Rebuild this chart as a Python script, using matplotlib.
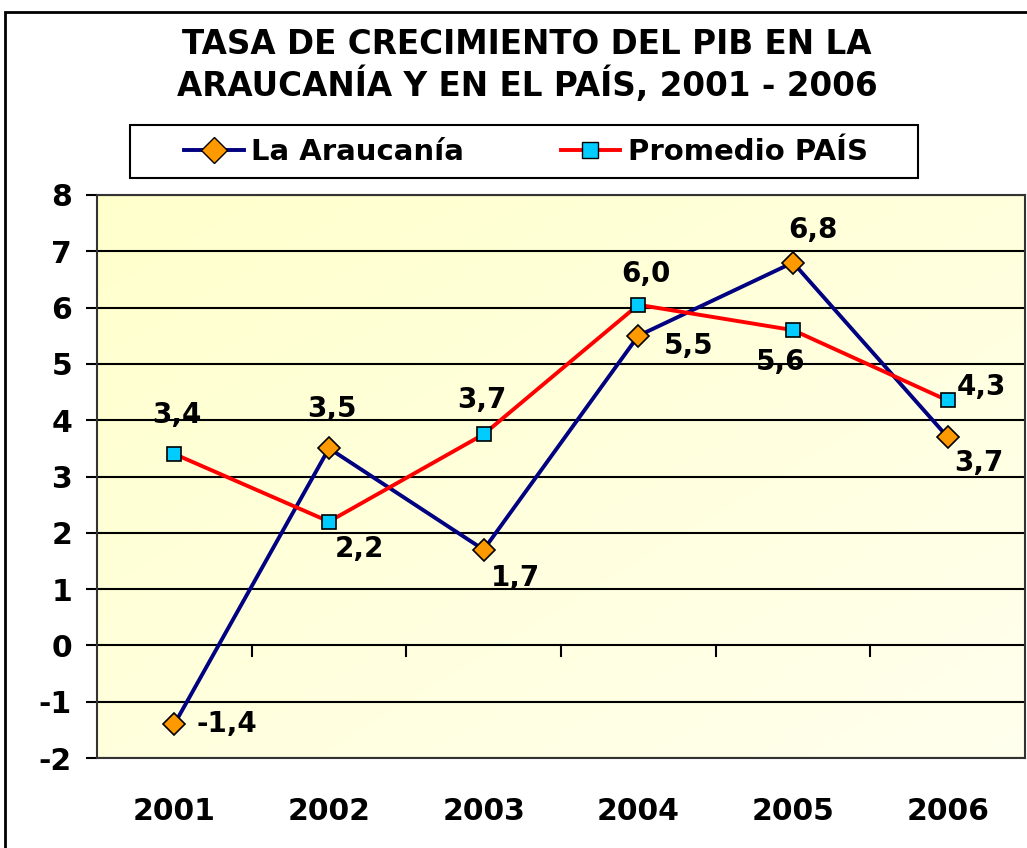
import matplotlib
matplotlib.use("Agg")
import matplotlib.pyplot as plt
import numpy as np
from matplotlib.patches import Rectangle
from matplotlib.lines import Line2D

years = ["2001", "2002", "2003", "2004", "2005", "2006"]
araucania = [-1.4, 3.5, 1.7, 5.5, 6.8, 3.7]
pais = [3.4, 2.2, 3.75, 6.05, 5.6, 4.35]
araucania_labels = ["-1,4", "3,5", "1,7", "5,5", "6,8", "3,7"]
pais_labels = ["3,4", "2,2", "3,7", "6,0", "5,6", "4,3"]
yticks = [-2, -1, 0, 1, 2, 3, 4, 5, 6, 7, 8]

W, H = 1027, 848
fig = plt.figure(figsize=(W / 100, H / 100), dpi=100)
fig.patch.set_facecolor("white")

# outer chart border
fig.patches.append(Rectangle((5 / W, -0.05), 1.1, (H - 12) / H + 0.05,
                             transform=fig.transFigure, fill=False,
                             edgecolor="black", linewidth=2, zorder=0))
# legend frame
fig.patches.append(Rectangle((130 / W, 1 - 178 / H), (918 - 130) / W, 53 / H,
                             transform=fig.transFigure, fill=True,
                             facecolor="white", edgecolor="black",
                             linewidth=1.5, zorder=1))

ax = fig.add_axes([97 / W, (H - 758) / H, (1025 - 97) / W, (758 - 195) / H])
x = np.arange(len(years))
ax.set_xlim(-0.5, len(years) - 0.5)
ax.set_ylim(-2, 8)

# gradient background (more yellow top-left, lighter bottom-right)
grad = np.linspace(0, 1, 256)
gx, gy = np.meshgrid(grad, grad)
t = (gx + gy) / 2
c0 = np.array([255, 255, 204]) / 255
c1 = np.array([255, 255, 238]) / 255
img = c0[None, None, :] * (1 - t[..., None]) + c1[None, None, :] * t[..., None]
ax.imshow(img, extent=[-0.5, len(years) - 0.5, -2, 8], aspect="auto",
          origin="upper", zorder=0)

for yv in yticks:
    ax.axhline(yv, color="black", linewidth=1.5, zorder=1)

# category boundary ticks on zero line
for b in np.arange(0.5, len(years) - 0.5, 1):
    ax.plot([b, b], [0, -0.18], color="black", linewidth=1.5, zorder=1)

ax.plot(x, araucania, color="#000080", linewidth=2.8, marker="D",
        markersize=11, markerfacecolor="#FF9900", markeredgecolor="black",
        markeredgewidth=1.2, zorder=3, label="La Araucanía")
ax.plot(x, pais, color="#FF0000", linewidth=2.8, marker="s",
        markersize=10, markerfacecolor="#00CCFF", markeredgecolor="black",
        markeredgewidth=1.2, zorder=4, label="Promedio PAÍS")

a_off = [(53, 0), (3, 39), (32, -28), (50, -10), (20, 33), (31, -26)]
p_off = [(3, 39), (30, -27), (-2, 34), (8, 31), (-12, -32), (34, 13)]
lab_kw = dict(textcoords="offset pixels", ha="center", va="center",
              fontsize=20, fontweight="bold", color="black", zorder=6)
for i in range(len(years)):
    ax.annotate(araucania_labels[i], (x[i], araucania[i]), xytext=a_off[i], **lab_kw)
    ax.annotate(pais_labels[i], (x[i], pais[i]), xytext=p_off[i], **lab_kw)

ax.set_xticks(x)
ax.set_xticklabels(years, fontsize=21.5, fontweight="bold")
ax.tick_params(axis="x", length=0, pad=28)
ax.set_yticks(yticks)
ax.set_yticklabels([str(v) for v in yticks], fontsize=21.5, fontweight="bold")
ax.tick_params(axis="y", length=8, width=1.5, pad=10)
for s in ax.spines.values():
    s.set_color("#333333")
    s.set_linewidth(1.5)

fig.text(527 / W, 1 - 45 / H, "TASA DE CRECIMIENTO DEL PIB EN LA",
         ha="center", va="center", fontsize=23.5, fontweight="bold")
fig.text(527 / W, 1 - 85 / H, "ARAUCANÍA Y EN EL PAÍS, 2001 - 2006",
         ha="center", va="center", fontsize=23.5, fontweight="bold")

handles = [
    Line2D([], [], color="#000080", linewidth=2.8, marker="D", markersize=13,
           markerfacecolor="#FF9900", markeredgecolor="black"),
    Line2D([], [], color="#FF0000", linewidth=2.8, marker="s", markersize=11,
           markerfacecolor="#00CCFF", markeredgecolor="black"),
]
leg = fig.legend(handles, ["La Araucanía", "Promedio PAÍS"], ncol=2,
                 loc="center", bbox_to_anchor=(526 / W, 1 - 152 / H),
                 prop={"size": 21, "weight": "bold"}, frameon=False,
                 handlelength=2.05, columnspacing=3.3, borderpad=0.3,
                 handletextpad=0.25, borderaxespad=0)
leg.set_zorder(5)

fig.savefig("out.png", dpi=100)
